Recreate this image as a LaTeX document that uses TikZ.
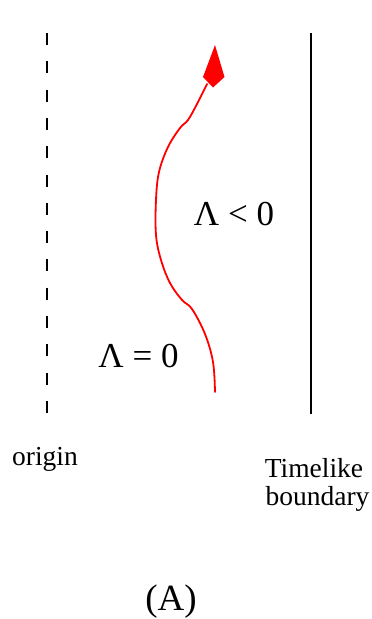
\documentclass[tikz,border=0pt]{standalone}
\usepackage{fontspec}
\setmainfont{Liberation Serif}
\begin{document}
\begin{tikzpicture}[x=1pt,y=-1pt,
  lbl/.style={inner sep=0pt,font=\fontsize{27.5}{28}\selectfont},
  big/.style={inner sep=0pt,font=\fontsize{35}{40}\selectfont},
  worldline/.style={red,line width=1.8pt,line cap=round,line join=round}]
\useasboundingbox (0,0) rectangle (372,619);
% origin (dashed) and timelike boundary (solid)
\coordinate (o1) at (47,33);
\coordinate (o2) at (47,414);
\coordinate (b1) at (311,33);
\coordinate (b2) at (311,414);
\draw[line width=2pt,dash pattern=on 12pt off 16.3pt] (o1) -- (o2);
\draw[line width=2pt] (b1) -- (b2);
% world line
\draw[worldline] plot[smooth,tension=0.6] coordinates {(215,392) (213,362) (205,334) (192,309) (182,300) (170,283) (161,260) (156,235) (156,200) (159,172) (168,147) (180,128) (188,120) (197,104) (207,84)};
\coordinate (tip) at (215,45);
\fill[red] (tip) -- (224.5,77) -- (213,87.5) -- (203,77) -- cycle;
% labels
\node[big,anchor=base] (lneg) at (234,225) {Λ < 0};
\node[big,anchor=base] (lzero) at (138.5,367) {Λ = 0};
\node[lbl,anchor=base] (orig) at (45,465) {origin};
\node[lbl,anchor=base] (tl1) at (314,477) {Timelike};
\node[lbl,anchor=base] (tl2) at (317.5,505) {boundary};
\node[font=\fontsize{37}{40}\selectfont,inner sep=0pt,anchor=base] (cap) at (171,610) {(A)};
\end{tikzpicture}
\end{document}
